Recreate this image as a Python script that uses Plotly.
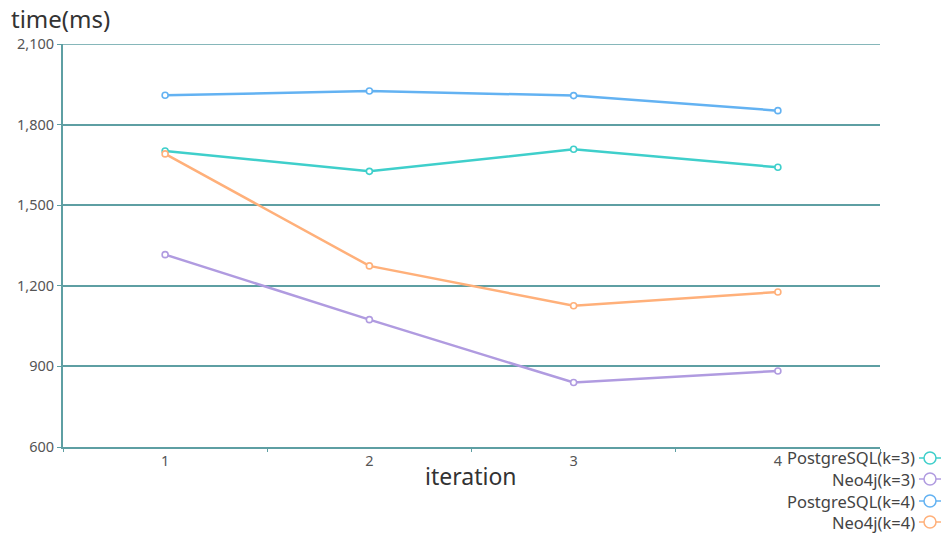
import plotly.graph_objects as go

# Query time per iteration (ms)
iterations = ["1", "2", "3", "4"]
postgres_k3 = [1702, 1626, 1708, 1641]
neo4j_k3 = [1316, 1074, 840, 883]
postgres_k4 = [1909, 1925, 1908, 1852]
neo4j_k4 = [1691, 1274, 1126, 1177]

series_names = ["PostgreSQL(k=3)", "Neo4j(k=3)", "PostgreSQL(k=4)", "Neo4j(k=4)"]
series_values = [postgres_k3, neo4j_k3, postgres_k4, neo4j_k4]
series_colors = ["#3fcfcb", "#b09be0", "#63b2f2", "#ffb07a"]

y_ticks = [600, 900, 1200, 1500, 1800, 2100]

W, H = 942, 536
L, R, T, B = 63, 62, 44, 89
PW, PH = W - L - R, H - T - B
FONT = "Noto Sans"
GRID = "#5e9fa3"


def px_x(px):
    return (px - L) / PW


def px_y(py):
    return (H - B - py) / PH


fig = go.Figure()
for name, vals, col in zip(series_names, series_values, series_colors):
    fig.add_trace(go.Scatter(
        x=iterations, y=vals, name=name, mode="lines+markers",
        line=dict(color=col, width=2.5),
        marker=dict(symbol="circle", size=6, color="white",
                    line=dict(color=col, width=1.6)),
        showlegend=False,
    ))

shapes = []
annotations = []

# Top grid line at the end of the value range
shapes.append(dict(
    type="line", xref="paper", yref="y", layer="below",
    x0=0, x1=1, y0=y_ticks[-1], y1=y_ticks[-1],
    line=dict(color=GRID, width=1.5),
))

# Legend: right-aligned label followed by a line-and-circle symbol
row_y = [458, 479, 501, 522]
for name, col, ry in zip(series_names, series_colors, row_y):
    annotations.append(dict(
        text=name, xref="paper", yref="paper", x=px_x(917), y=px_y(ry),
        xanchor="right", yanchor="middle", showarrow=False,
        font=dict(family=FONT, size=16.5, color="#444"),
    ))
    shapes.append(dict(
        type="line", xref="paper", yref="paper",
        x0=px_x(919), x1=px_x(941), y0=px_y(ry), y1=px_y(ry),
        line=dict(color=col, width=1.5),
    ))
    shapes.append(dict(
        type="circle", xref="paper", yref="paper",
        xsizemode="pixel", ysizemode="pixel",
        xanchor=px_x(930), yanchor=px_y(ry),
        x0=-6, x1=6, y0=-6, y1=6,
        fillcolor="white", line=dict(color=col, width=1.5),
    ))

annotations.append(dict(
    text="time(ms)", xref="paper", yref="paper", x=px_x(9), y=px_y(18),
    xanchor="left", yanchor="middle", showarrow=False,
    font=dict(family=FONT, size=24, color="#333"),
))
annotations.append(dict(
    text="iteration", xref="paper", yref="paper", x=px_x(471), y=px_y(476),
    xanchor="center", yanchor="middle", showarrow=False,
    font=dict(family=FONT, size=23, color="#333"),
))

fig.update_layout(
    width=W, height=H,
    margin=dict(l=L, r=R, t=T, b=B),
    paper_bgcolor="white", plot_bgcolor="white",
    font=dict(family=FONT, size=14, color="#555"),
    shapes=shapes, annotations=annotations,
    xaxis=dict(
        type="category", categoryorder="array", categoryarray=iterations,
        range=[-0.5, 3.5], tickson="boundaries", ticks="outside",
        ticklen=3, tickcolor=GRID, showgrid=False, showline=True,
        linecolor=GRID, linewidth=2, zeroline=False,
        tickfont=dict(family=FONT, size=14.5, color="#555"),
    ),
    yaxis=dict(
        range=[600, 2100], tickvals=y_ticks, tickformat=",",
        ticks="outside", ticklen=4, tickcolor=GRID,
        showgrid=True, gridcolor=GRID, gridwidth=1.5,
        showline=True, linecolor=GRID, linewidth=2, zeroline=False,
        tickfont=dict(family=FONT, size=14.5, color="#555"),
    ),
)

fig.write_html("out.html")
